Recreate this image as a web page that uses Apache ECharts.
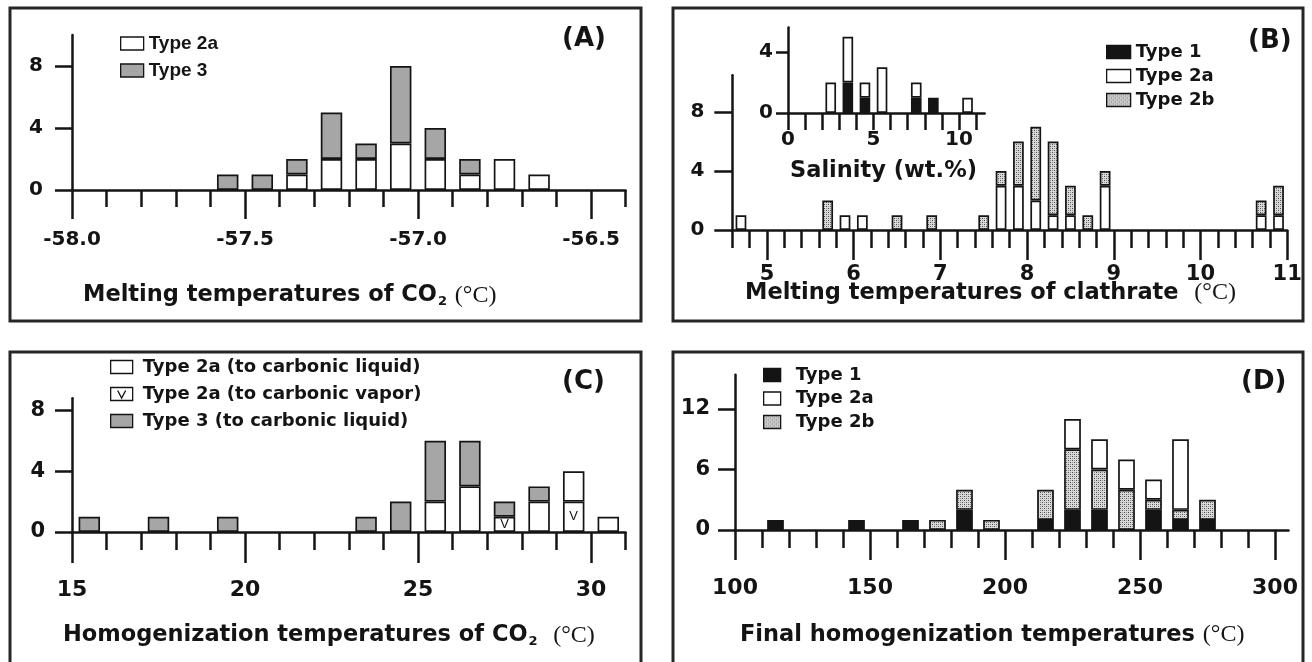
<!DOCTYPE html>
<html><head><meta charset="utf-8">
<script src="https://cdn.jsdelivr.net/npm/echarts@6/dist/echarts.min.js"></script>
<style>html,body{margin:0;padding:0;background:#fff}#c{width:1312px;height:662px}</style>
</head><body><div id="c"></div>
<script>
// ---------------- DATA ----------------
// (A) Melting temperatures of CO2, bins of 0.1 °C from -58.0 to -56.4
const A_bins  = ['-57.95','-57.85','-57.75','-57.65','-57.55','-57.45','-57.35','-57.25','-57.15','-57.05','-56.95','-56.85','-56.75','-56.65','-56.55','-56.45'];
const A_type2a = [0,0,0,0,0,0,1,2,2,3,2,1,2,1,0,0];
const A_type3  = [0,0,0,0,1,1,1,3,1,5,2,1,0,0,0,0];
const A_xticks = [-58.0,-57.5,-57.0,-56.5];
const A_yticks = [0,4,8];

// (B) Melting temperatures of clathrate, bins of 0.2 °C from 4.6 to 11.0
const B_bins = ['4.7','4.9','5.1','5.3','5.5','5.7','5.9','6.1','6.3','6.5','6.7','6.9','7.1','7.3','7.5','7.7','7.9','8.1','8.3','8.5','8.7','8.9','9.1','9.3','9.5','9.7','9.9','10.1','10.3','10.5','10.7','10.9'];
const B_type2a = [1,0,0,0,0,0,1,1,0,0,0,0,0,0,0,3,3,2,1,1,0,3,0,0,0,0,0,0,0,0,1,1];
const B_type2b = [0,0,0,0,0,2,0,0,0,1,0,1,0,0,1,1,3,5,5,2,1,1,0,0,0,0,0,0,0,0,1,2];
const B_xticks = [5,6,7,8,9,10,11];
const B_yticks = [0,4,8];

// (B) inset: Salinity (wt.%), bins of 1 from 0 to 11
const S_bins = ['0.5','1.5','2.5','3.5','4.5','5.5','6.5','7.5','8.5','9.5','10.5'];
const S_type1  = [0,0,0,2,1,0,0,1,1,0,0];
const S_type2a = [0,0,2,3,1,3,0,1,0,0,1];
const S_xticks = [0,5,10];
const S_yticks = [0,4];

// (C) Homogenization temperatures of CO2, bins of 1 °C from 15 to 31
const C_bins = ['15.5','16.5','17.5','18.5','19.5','20.5','21.5','22.5','23.5','24.5','25.5','26.5','27.5','28.5','29.5','30.5'];
const C_vapor  = [0,0,0,0,0,0,0,0,0,0,0,0,1,0,2,0];
const C_liquid = [0,0,0,0,0,0,0,0,0,0,2,3,0,2,2,1];
const C_type3  = [1,0,1,0,1,0,0,0,1,2,4,3,1,1,0,0];
const C_xticks = [15,20,25,30];
const C_yticks = [0,4,8];

// (D) Final homogenization temperatures, bins of 10 °C from 100 to 300
const D_bins = ['105','115','125','135','145','155','165','175','185','195','205','215','225','235','245','255','265','275','285','295'];
const D_type1  = [0,1,0,0,1,0,1,0,2,0,0,1,2,2,0,2,1,1,0,0];
const D_type2b = [0,0,0,0,0,0,0,1,2,1,0,3,6,4,4,1,1,2,0,0];
const D_type2a = [0,0,0,0,0,0,0,0,0,0,0,0,3,3,3,2,7,0,0,0];
const D_xticks = [100,150,200,250,300];
const D_yticks = [0,6,12];

// ---------------- STYLE ----------------
const SANS = "'Liberation Sans', Arial, Helvetica, sans-serif";
const WIDE = "'DejaVu Sans', Verdana, sans-serif";
const SERIF = "'Liberation Serif', 'Times New Roman', serif";
const INK = '#141414';
const WHITE = '#ffffff';
const BLACK = '#141414';
const GRAY = '#a6a6a6';
function hatch(){
  const c = document.createElement('canvas'); c.width = 4; c.height = 4;
  const g = c.getContext('2d');
  g.fillStyle = '#dadada'; g.fillRect(0,0,4,4);
  g.fillStyle = '#4a4a4a'; g.fillRect(0,0,1,1); g.fillRect(2,2,1,1);
  g.fillStyle = '#909090'; g.fillRect(2,0,1,1); g.fillRect(0,2,1,1);
  return {image: c, repeat: 'repeat'};
}
const HATCH = hatch();

const option = {backgroundColor:'#fff', animation:false, grid:[], xAxis:[], yAxis:[], series:[], legend:[], title:[], graphic:[]};

function addPanel(p){
  const gi = option.grid.length;
  const h = p.ymax * p.pxY;
  const top = p.y0 - h;
  option.grid.push({left:p.x0, top:top, width:p.nbins*p.binW*p.pxX, height:h, outerBoundsMode:'none', containLabel:false});
  option.grid.push({left:p.x0, top:top, width:(p.lineMax-p.xmin)*p.pxX, height:h, outerBoundsMode:'none', containLabel:false});
  const ls = {color:INK, width:2.5};
  const xi = option.xAxis.length;
  option.xAxis.push({type:'category', gridIndex:gi, data:p.cats, boundaryGap:true,
    axisLine:{show:false}, axisTick:{show:true, interval:0, length:p.minorLen, lineStyle:ls},
    axisLabel:{show:false}, splitLine:{show:false}});
  option.xAxis.push({type:'value', gridIndex:gi+1, min:p.xmin, max:p.lineMax,
    axisLine:{show:true, onZero:false, lineStyle:ls},
    axisTick:{show:true, customValues:p.majors, length:p.majorLen, lineStyle:ls},
    axisLabel:{show:true, customValues:p.majors, formatter:p.fmt, margin:p.xMargin,
      fontSize:p.xFont, fontWeight:'bold', fontFamily:WIDE, color:INK},
    splitLine:{show:false}});
  const yi = option.yAxis.length;
  option.yAxis.push({type:'value', gridIndex:gi, min:0, max:p.ymax, show:false});
  option.yAxis.push({type:'value', gridIndex:gi+1, min:0, max:p.ymax,
    axisLine:{show:true, lineStyle:ls},
    axisTick:{show:true, customValues:p.yTicks, length:p.yTickLen, lineStyle:ls},
    axisLabel:{show:true, customValues:p.yTicks, margin:p.yMargin, fontSize:p.yFont, fontWeight:'bold', fontFamily:WIDE, color:INK},
    splitLine:{show:false}});
  p.series.forEach(function(s){
    option.series.push({type:'bar', name:s.name, xAxisIndex:xi, yAxisIndex:yi, stack:'st'+gi,
      barWidth:'62%', data:s.data.map(function(v){return v>0?v:'-';}),
      itemStyle:{color:s.color, borderColor:INK, borderWidth:1.7},
      label:s.label || {show:false}, emphasis:{disabled:true}, z:3});
  });
}

addPanel({x0:72, y0:190, pxX:346, pxY:15.5, xmin:-58, binW:0.1, nbins:A_bins.length, lineMax:-56.4, ymax:10,
  cats:A_bins, majors:A_xticks, fmt:function(v){return v.toFixed(1);}, majorLen:29, minorLen:17,
  yTicks:A_yticks, yTickLen:17, xMargin:40, yMargin:29, xFont:20, yFont:20,
  series:[{name:'Type 2a', data:A_type2a, color:WHITE},{name:'Type 3', data:A_type3, color:GRAY}]});

addPanel({x0:732.3, y0:230, pxX:86.7, pxY:14.75, xmin:4.6, binW:0.2, nbins:B_bins.length, lineMax:11, ymax:10.5,
  cats:B_bins, majors:B_xticks, fmt:function(v){return String(v);}, majorLen:30, minorLen:18,
  yTicks:B_yticks, yTickLen:18, xMargin:34, yMargin:28, xFont:21, yFont:20,
  series:[{name:'Type 2a', data:B_type2a, color:WHITE},{name:'Type 2b', data:B_type2b, color:HATCH}]});

addPanel({x0:788, y0:113, pxX:17.1, pxY:15.25, xmin:0, binW:1, nbins:S_bins.length, lineMax:11.5, ymax:5.6,
  cats:S_bins, majors:S_xticks, fmt:function(v){return String(v);}, majorLen:17, minorLen:17,
  yTicks:S_yticks, yTickLen:12, xMargin:17, yMargin:15, xFont:20, yFont:20,
  series:[{name:'Type 1', data:S_type1, color:BLACK},{name:'Type 2a', data:S_type2a, color:WHITE}]});

addPanel({x0:72, y0:532, pxX:34.6, pxY:15.2, xmin:15, binW:1, nbins:C_bins.length, lineMax:31, ymax:8.8,
  cats:C_bins, majors:C_xticks, fmt:function(v){return String(v);}, majorLen:31, minorLen:18,
  yTicks:C_yticks, yTickLen:17, xMargin:47, yMargin:27, xFont:22, yFont:21,
  series:[{name:'Type 2a (to carbonic vapor)', data:C_vapor, color:WHITE,
            label:{show:true, position:'inside', formatter:'V', color:INK, fontSize:13, fontFamily:SANS}},
          {name:'Type 2a (to carbonic liquid)', data:C_liquid, color:WHITE},
          {name:'Type 3 (to carbonic liquid)', data:C_type3, color:GRAY}]});

addPanel({x0:735, y0:530, pxX:2.7, pxY:10.08, xmin:100, binW:10, nbins:D_bins.length, lineMax:305, ymax:15.4,
  cats:D_bins, majors:D_xticks, fmt:function(v){return String(v);}, majorLen:30, minorLen:18,
  yTicks:D_yticks, yTickLen:17, xMargin:47, yMargin:25, xFont:22, yFont:21,
  series:[{name:'Type 1', data:D_type1, color:BLACK},{name:'Type 2b', data:D_type2b, color:HATCH},{name:'Type 2a', data:D_type2a, color:WHITE}]});

// ---------------- LEGENDS ----------------
function legend(l){
  option.legend.push({orient:'vertical', left:l.left, top:l.top, padding:0, itemGap:l.gap,
    itemWidth:l.w, itemHeight:13, selectedMode:false, data:l.data, icon:'rect',
    itemStyle:{borderColor:INK, borderWidth:1.3},
    textStyle:{fontSize:l.fs, fontWeight:'bold', fontFamily:l.font, color:INK, padding:[0,0,0,l.tp||0]}});
}
legend({left:120, top:34, gap:8, w:23, fs:19, font:SANS, data:['Type 2a','Type 3']});
legend({left:1106, top:43, gap:6, w:24, fs:18, font:WIDE, data:['Type 1','Type 2a','Type 2b']});
legend({left:110, top:358, gap:9, w:22, fs:18, font:WIDE, tp:5, data:[
  {name:'Type 2a (to carbonic liquid)', icon:'rect'},
  {name:'Type 2a (to carbonic vapor)', icon:'path://M0,0L22,0L22,13L0,13Z M7,3L11,10.5L15,3'},
  {name:'Type 3 (to carbonic liquid)', icon:'rect'}]});
legend({left:763, top:366, gap:5.5, w:17, fs:18, font:WIDE, tp:10, data:['Type 1','Type 2a','Type 2b']});

// ---------------- TEXT ----------------
const rich = {
  b:{fontFamily:WIDE, fontWeight:'bold', fontSize:22.5, lineHeight:24, color:INK},
  s:{fontFamily:WIDE, fontWeight:'bold', fontSize:13, padding:[12,0,0,1], color:INK},
  r:{fontFamily:SERIF, fontWeight:'normal', fontSize:24, lineHeight:24, color:INK}
};
function tx(text, left, centerY){
  option.title.push({text:text, left:left, top:centerY-12, padding:0, textStyle:{rich:rich}});
}
tx('{b|Melting temperatures of CO}{s|2}{b| }{r|(°C)}', 83, 295);
tx('{b|Melting temperatures of clathrate  }{r|(°C)}', 745, 293);
tx('{b|Salinity (wt.%)}', 790, 171);
tx('{b|Homogenization temperatures of CO}{s|2}{b|  }{r|(°C)}', 63, 635);
tx('{b|Final homogenization temperatures }{r|(°C)}', 740, 635);
function tag(text, left, top){
  option.title.push({text:text, left:left, top:top, padding:0, textStyle:{fontSize:26, fontWeight:'bold', fontFamily:WIDE, color:INK}});
}
tag('(A)', 562, 26);
tag('(B)', 1248, 28);
tag('(C)', 562, 369);
tag('(D)', 1241, 369);

// ---------------- FRAMES ----------------
[[10,8,631,313],[673,8,630,313],[10,352,631,316],[673,352,630,316]].forEach(function(r){
  option.graphic.push({type:'rect', silent:true, shape:{x:r[0], y:r[1], width:r[2], height:r[3]},
    style:{fill:'none', stroke:'#262626', lineWidth:3}});
});

const chart = echarts.init(document.getElementById('c'), null, {renderer:'canvas'});
chart.setOption(option);
</script></body></html>
